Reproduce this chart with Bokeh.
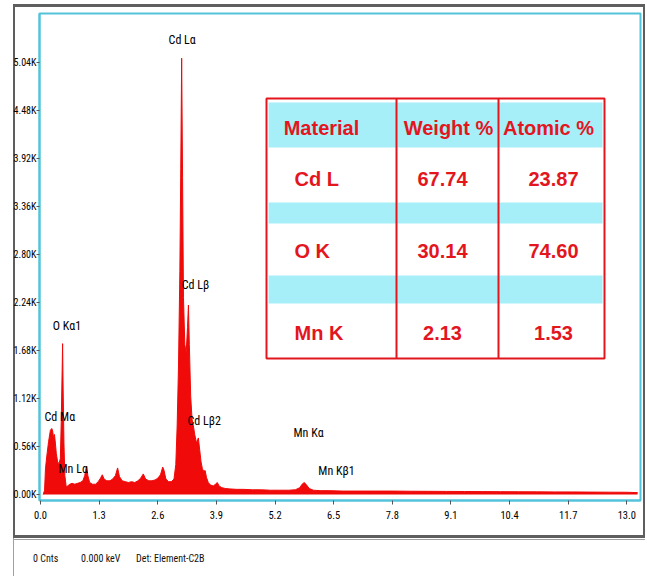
from bokeh.plotting import figure
from bokeh.layouts import column
from bokeh.models import ColumnDataSource, FixedTicker, Range1d, BoxAnnotation, Label, Div
from bokeh.core.properties import value
from bokeh.embed import file_html
from bokeh.resources import INLINE

# ---------------- data ----------------
energy_kev = [0.06, 0.09, 0.11, 0.14, 0.18, 0.22, 0.25, 0.27, 0.29, 0.31,
              0.33, 0.35, 0.38, 0.41, 0.44, 0.46, 0.48, 0.49, 0.50, 0.52,
              0.54, 0.57, 0.60, 0.65, 0.70, 0.76, 0.82, 0.88, 0.94, 0.98,
              1.02, 1.05, 1.09, 1.15, 1.22, 1.28, 1.33, 1.37, 1.41, 1.47,
              1.54, 1.60, 1.66, 1.71, 1.75, 1.81, 1.88, 1.95, 2.02, 2.09,
              2.16, 2.22, 2.28, 2.33, 2.40, 2.47, 2.54, 2.60, 2.66, 2.71,
              2.74, 2.78, 2.84, 2.90, 2.96, 3.00, 3.03, 3.06, 3.09, 3.11,
              3.13, 3.15, 3.17, 3.20, 3.23, 3.26, 3.28, 3.30, 3.33, 3.36,
              3.39, 3.42, 3.46, 3.50, 3.53, 3.56, 3.59, 3.62, 3.65, 3.68,
              3.72, 3.77, 3.83, 3.88, 3.92, 3.96, 4.02, 4.10, 4.20, 4.35,
              4.50, 4.70, 4.90, 5.10, 5.30, 5.50, 5.65, 5.75, 5.80, 5.85,
              5.90, 5.96, 6.05, 6.20, 6.40, 6.70, 7.00, 7.40, 7.80, 8.20,
              8.60, 9.00, 9.40, 9.80, 10.20, 10.60, 11.00, 11.40, 11.80, 12.20,
              12.60, 13.00, 13.24]
counts_k = [0.0, 0.05, 0.30, 0.45, 0.62, 0.75, 0.77, 0.74, 0.66, 0.70,
            0.60, 0.48, 0.38, 0.36, 0.42, 0.85, 1.45, 1.76, 1.30, 0.60,
            0.22, 0.09, 0.10, 0.12, 0.13, 0.12, 0.13, 0.14, 0.16, 0.22,
            0.33, 0.22, 0.14, 0.12, 0.12, 0.15, 0.19, 0.23, 0.18, 0.16,
            0.16, 0.18, 0.22, 0.31, 0.21, 0.16, 0.15, 0.14, 0.15, 0.14,
            0.16, 0.19, 0.24, 0.18, 0.16, 0.16, 0.17, 0.19, 0.23, 0.32,
            0.28, 0.18, 0.15, 0.15, 0.18, 0.35, 0.80, 1.50, 2.60, 3.80,
            5.09, 3.70, 2.30, 1.75, 1.65, 1.95, 2.21, 1.75, 1.15, 0.88,
            0.80, 0.70, 0.60, 0.66, 0.52, 0.38, 0.30, 0.27, 0.28, 0.20,
            0.14, 0.11, 0.10, 0.12, 0.14, 0.10, 0.08, 0.07, 0.065, 0.06,
            0.06, 0.055, 0.055, 0.05, 0.05, 0.05, 0.055, 0.08, 0.12, 0.14,
            0.11, 0.07, 0.05, 0.045, 0.045, 0.04, 0.04, 0.04, 0.04, 0.038,
            0.037, 0.036, 0.035, 0.034, 0.033, 0.032, 0.031, 0.03, 0.03, 0.028,
            0.027, 0.026, 0.022]

peak_labels = ["Cd Lα", "O Kα1", "Cd Lβ", "Cd Mα", "Mn Lα", "Cd Lβ2", "Mn Kα", "Mn Kβ1"]
label_kev = [2.84, 0.27, 3.13, 0.09, 0.40, 3.26, 5.61, 6.16]
label_k = [5.30, 1.97, 2.44, 0.91, 0.30, 0.86, 0.72, 0.28]

x_ticks = [0.0, 1.3, 2.6, 3.9, 5.2, 6.5, 7.8, 9.1, 10.4, 11.7, 13.0]
x_tick_labels = ["0.0", "1.3", "2.6", "3.9", "5.2", "6.5", "7.8", "9.1", "10.4", "11.7", "13.0"]
y_ticks = [0.0, 0.56, 1.12, 1.68, 2.24, 2.80, 3.36, 3.92, 4.48, 5.04]
y_tick_labels = ["0.00K", "0.56K", "1.12K", "1.68K", "2.24K", "2.80K", "3.36K", "3.92K", "4.48K", "5.04K"]

table_header = ["Material", "Weight %", "Atomic %"]
materials = ["Cd L", "O K", "Mn K"]
weight_pct = ["67.74", "30.14", "2.13"]
atomic_pct = ["23.87", "74.60", "1.53"]

status_texts = ["0 Cnts", "0.000 keV", "Det: Element-C2B"]

# ---------------- layout / style ----------------
W, H1, H2 = 647, 540, 36
FL, FT, FR, FB = 39, 13, 640, 500     # frame edges in canvas px
PXK = 45.1                             # px per keV
PXY = 48 / 0.56                        # px per K counts
x0 = -1 / PXK
x1 = x0 + (FR - FL) / PXK
y0 = -6 / PXY
y1 = y0 + (FB - FT) / PXY

NARROW = "Noto Sans Condensed, Roboto Condensed, DejaVu Sans Condensed, Liberation Sans, sans-serif"
RED = "#f00a0a"
TRED = "#e3161e"
CYAN = "#52c3da"

p = figure(width=W, height=H1, output_backend="svg", toolbar_location=None,
           x_range=Range1d(x0, x1), y_range=Range1d(y0, y1),
           min_border_left=FL, min_border_top=FT, min_border_right=W - FR,
           min_border_bottom=H1 - FB)
p.background_fill_color = "white"
p.border_fill_color = None
p.xgrid.grid_line_color = None
p.ygrid.grid_line_color = None
p.outline_line_color = CYAN
p.outline_line_width = 2

for ax in (p.xaxis[0], p.yaxis[0]):
    ax.axis_line_color = CYAN
    ax.axis_line_width = 2
    ax.major_tick_in = 0
    ax.minor_tick_line_color = None
    ax.major_tick_line_color = "#555555"
    ax.major_label_text_font = NARROW
    ax.major_label_text_color = "#000000"

p.xaxis.ticker = FixedTicker(ticks=x_ticks)
p.xaxis.major_label_overrides = dict(zip(x_ticks, x_tick_labels))
p.xaxis.major_label_text_font_size = "10.5px"
p.xaxis.major_tick_out = 4
p.xaxis.major_label_standoff = 6
p.yaxis.ticker = FixedTicker(ticks=y_ticks)
p.yaxis.major_label_overrides = dict(zip(y_ticks, y_tick_labels))
p.yaxis.major_label_text_font_size = "10px"
p.yaxis.major_tick_out = 3
p.yaxis.major_label_standoff = 0

# spectrum
src = ColumnDataSource(dict(x=energy_kev, y=counts_k))
p.varea(x="x", y1=0, y2="y", source=src, fill_color=RED, fill_alpha=1.0)
p.line(x="x", y="y", source=src, line_color=RED, line_width=1)

# peak labels
lsrc = ColumnDataSource(dict(x=label_kev, y=label_k, t=peak_labels))
p.text(x="x", y="y", text="t", source=lsrc, text_font=value(NARROW),
       text_font_size="12px", text_color="black", text_align="left",
       text_baseline="middle")

# helpers: canvas px -> frame-relative screen units
def sx(cx):
    return cx - FL

def sy(cy):
    return FB - cy

def box(l, t, r, b, **kw):
    p.add_layout(BoxAnnotation(left=sx(l), right=sx(r), top=sy(t), bottom=sy(b),
                               left_units="screen", right_units="screen",
                               top_units="screen", bottom_units="screen", **kw))

# results table
T_L, T_T, T_R, T_B = 266, 98, 604, 358
bands = [(102, 147), (202, 223), (275, 303)]
for bt, bb in bands:
    box(268, bt, 602, bb, fill_color="#a6eef8", fill_alpha=1, line_alpha=0)
for cxd in (396, 498):
    box(cxd - 1, T_T, cxd + 1, T_B, fill_color=TRED, fill_alpha=1, line_alpha=0)
box(T_L, T_T, T_R, T_B, fill_alpha=0, line_color=TRED, line_alpha=1, line_width=2)

def tlabel(txt, cx, cy, align="center"):
    p.add_layout(Label(x=sx(cx), y=sy(cy), x_units="screen", y_units="screen",
                       text=txt, text_font="Liberation Sans", text_font_style="bold",
                       text_font_size="20px", text_color=TRED,
                       text_baseline="middle", text_align=align))

for txt, cx in zip(table_header, [321, 448, 548]):
    tlabel(txt, cx, 127)
for i, cy in enumerate([178, 250, 332]):
    tlabel(materials[i], 294, cy, align="left")
    tlabel(weight_pct[i], 442, cy)
    tlabel(atomic_pct[i], 553, cy)

# status bar below the chart
spans = "".join(
    f'<span style="position:absolute;left:{x}px;top:8px;white-space:nowrap;">{t}</span>'
    for x, t in zip([28, 76, 131], status_texts))
status = Div(
    text=('<div style="position:relative;width:647px;height:36px;'
          "font-family:'Noto Sans Condensed','Roboto Condensed','DejaVu Sans Condensed',"
          "'Liberation Sans',sans-serif;font-size:10px;line-height:12px;color:#111;\">"
          + spans + "</div>"),
    width=W, height=H2)

# gray window frame drawn as CSS background lines behind the transparent canvas
g = "linear-gradient(#5e5e5e,#5e5e5e)"
lg = "linear-gradient(#a0a0a0,#a0a0a0)"
frame_styles = {
    "background-image": ", ".join([g, g, g, g, lg, lg]),
    "background-size": "632px 3px, 2px 533px, 2px 533px, 632px 3px, 1px 40px, 632px 1px",
    "background-position": "13px 4px, 13px 4px, 643px 4px, 13px 535px, 13px 538px, 13px 539px",
    "background-repeat": "no-repeat",
    "background-color": "white",
}
layout = column(p, status, spacing=0, styles=frame_styles)

open("out.html", "w").write(file_html(layout, INLINE))
